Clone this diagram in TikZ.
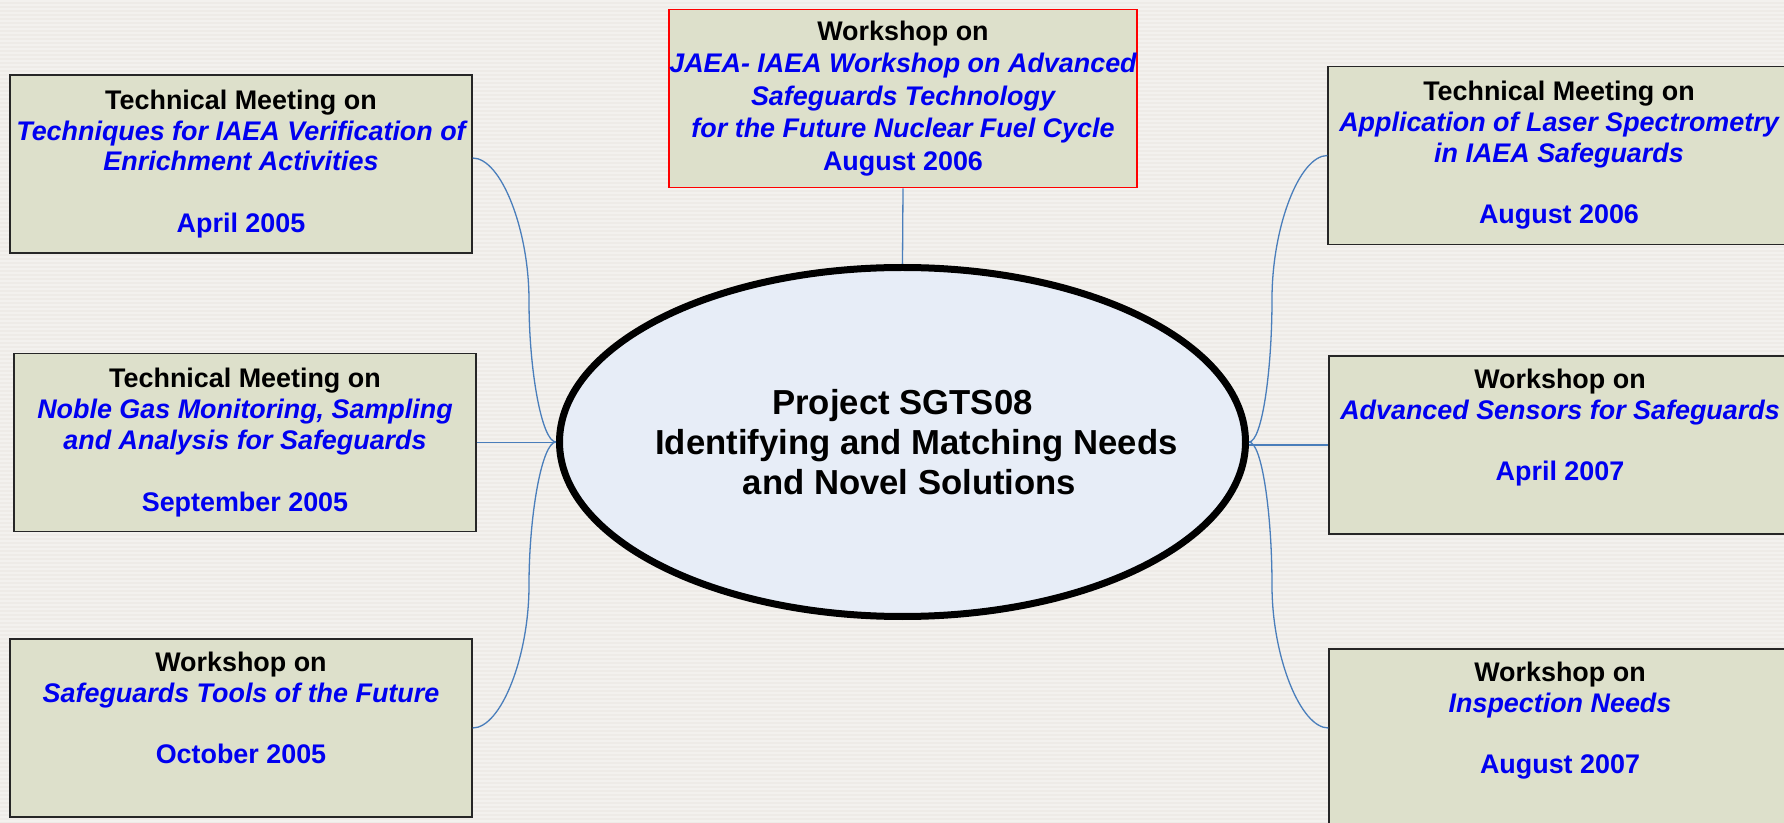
\documentclass[tikz,border=0pt]{standalone}
\usepackage{fontspec}
\setmainfont{Liberation Sans}
\usetikzlibrary{shapes.geometric}
\definecolor{bgpaper}{HTML}{EEEBE7}
\definecolor{bgstripe}{HTML}{F3F1EE}
\definecolor{boxfill}{HTML}{DDE0CB}
\definecolor{hubfill}{HTML}{E7EDF7}
\definecolor{linkblue}{HTML}{4A7EBB}
\definecolor{txtblue}{HTML}{0000F0}
\newcommand{\topic}[1]{\textcolor{txtblue}{\itshape #1}}
\newcommand{\when}[1]{\textcolor{txtblue}{#1}}
\tikzset{
eventbox/.style={draw=black!85,line width=.6pt,fill=boxfill,align=center,inner sep=0pt,minimum width=231pt,minimum height=89pt,font=\bfseries\fontsize{13.45}{15.4}\selectfont},
keybox/.style={eventbox,draw=red,line width=.8pt,minimum width=234pt,font=\bfseries\fontsize{13.45}{16.2}\selectfont},
hub/.style={ellipse,draw=black,line width=3.5pt,fill=hubfill,align=center,inner xsep=-17pt,inner ysep=0pt,minimum width=343pt,minimum height=174.5pt,font=\bfseries\fontsize{17.35}{20.2}\selectfont},
link/.style={draw=linkblue,line width=.65pt}
}
\begin{document}
\begin{tikzpicture}[x=.5pt,y=-.5pt]
\useasboundingbox (0,0) rectangle (1784,823);
% striped paper
\fill[bgpaper] (0,0) rectangle (1784,823);
\foreach \y in {0,4,...,820} \fill[bgstripe] (0,\y) rectangle (1784,\y+2);
% meetings, left column
\node[eventbox] (tl) at (241,164) {Technical Meeting on\\\topic{Techniques for IAEA Verification of}\\\topic{Enrichment Activities}\\[15.4pt]\when{April 2005}};
\node[eventbox] (ml) at (245,442.5) {Technical Meeting on\\\topic{Noble Gas Monitoring, Sampling}\\\topic{and Analysis for Safeguards}\\[15.4pt]\when{September 2005}};
\node[eventbox] (bl) at (241,728) {Workshop on\\\topic{Safeguards Tools of the Future}\\[15.4pt]\when{October 2005}\\\strut};
% top
\node[keybox] (top) at (903,98.5) {Workshop on\\\topic{JAEA- IAEA Workshop on Advanced}\\\topic{Safeguards Technology}\\\topic{for the Future Nuclear Fuel Cycle}\\\when{August 2006}};
% right column
\node[eventbox] (tr) at (1559,155.5) {Technical Meeting on\\\topic{Application of Laser Spectrometry}\\\topic{in IAEA Safeguards}\\[15.4pt]\when{August 2006}};
\node[eventbox] (mr) at (1560,445) {Workshop on\\\topic{Advanced Sensors for Safeguards}\\[15.4pt]\when{April 2007}\\\strut};
\node[eventbox] (br) at (1560,738) {Workshop on\\\topic{Inspection Needs}\\[15.4pt]\when{August 2007}\\\strut};
% project
\node[hub] (hub) at (902.5,442) {Project SGTS08\\\hspace*{14pt}Identifying and Matching Needs\\\hspace*{7pt}and Novel Solutions};
% connectors
\coordinate (tlm) at (529,300.5);
\coordinate (blm) at (529,585.5);
\coordinate (trm) at (1272,299);
\coordinate (brm) at (1272,585.5);
\draw[link] ([yshift=3pt]tl.east) .. controls +(28.5,0) and +(0,-71) .. (tlm) .. controls +(0,71) and +(-14,0) .. (hub.west);
\draw[link] (bl.east) .. controls +(28.5,0) and +(0,71) .. (blm) .. controls +(0,-71) and +(-14,0) .. (hub.west);
\draw[link] (ml.east) -- (ml.east -| hub.west);
\draw[link] (hub.east) .. controls +(13,0) and +(0,72) .. (trm) .. controls +(0,-72) and +(-28,0) .. (tr.west);
\draw[link] (hub.east) .. controls +(13,0) and +(0,-71) .. (brm) .. controls +(0,71) and +(-28,0) .. ([yshift=5pt]br.west);
\draw[link] (mr.west -| hub.east) -- (mr.west);
\draw[link] (top.south) -- (hub.north);
\end{tikzpicture}
\end{document}
